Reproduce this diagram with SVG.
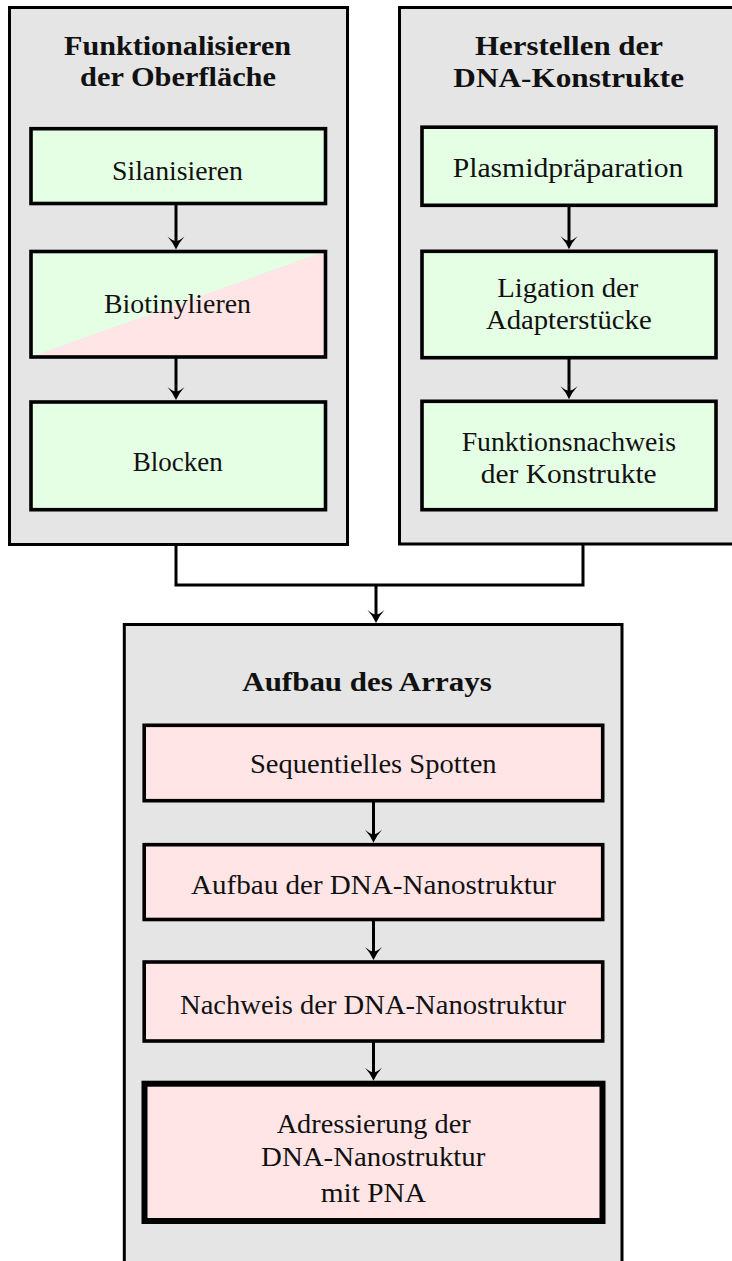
<svg xmlns="http://www.w3.org/2000/svg" width="732" height="1261" viewBox="0 0 732 1261">
<style>
.outer{fill:#e5e5e5;stroke:#000;stroke-width:3}
.g{fill:#e5ffe5;stroke:#000;stroke-width:3.6}
.r{fill:#ffe5e5;stroke:#000;stroke-width:3.6}
.thick{stroke-width:6}
.t{font-family:"Liberation Serif","Times New Roman",serif;font-size:27px;fill:#111;text-anchor:middle}
.b{font-weight:bold}
.c{fill:none;stroke:#000;stroke-width:3}
</style>
<defs>
<marker id="ah" markerUnits="userSpaceOnUse" viewBox="-15 -10 17 20" markerWidth="17" markerHeight="20" refX="-6" refY="0" orient="auto" overflow="visible">
<path d="M0,0 Q-7,-3 -13,-8.5 Q-8.5,-3 -8.5,0 Q-8.5,3 -13,8.5 Q-7,3 0,0 Z" fill="#000"/>
</marker>
</defs>
<rect width="732" height="1261" fill="#fff"/>

<g id="cluster-left">
<rect class="outer" x="9.5" y="7.5" width="338" height="537"/>
<text class="t b" x="177.5" y="55" textLength="227" lengthAdjust="spacingAndGlyphs">Funktionalisieren</text>
<text class="t b" x="178" y="86" textLength="196" lengthAdjust="spacingAndGlyphs">der Oberfläche</text>
</g>
<g id="cluster-right">
<rect class="outer" x="399.5" y="7.5" width="340" height="536.5"/>
<text class="t b" x="569" y="55" textLength="188" lengthAdjust="spacingAndGlyphs">Herstellen der</text>
<text class="t b" x="568.7" y="87" textLength="230.7" lengthAdjust="spacingAndGlyphs">DNA-Konstrukte</text>
</g>
<g id="cluster-bottom">
<rect class="outer" x="124.3" y="624.5" width="497.7" height="640"/>
<text class="t b" x="367" y="691" textLength="249.4" lengthAdjust="spacingAndGlyphs">Aufbau des Arrays</text>
</g>

<g id="silanisieren">
<rect class="g" x="31" y="128.7" width="294.5" height="74.8"/>
<text class="t" x="177.5" y="180" textLength="131" lengthAdjust="spacingAndGlyphs">Silanisieren</text>
</g>
<g id="biotinylieren">
<polygon points="31,251.5 325.5,251.5 31,357" fill="#e5ffe5"/>
<polygon points="325.5,251.5 325.5,357 31,357" fill="#ffe5e5"/>
<rect x="31" y="251.5" width="294.5" height="105.5" fill="none" stroke="#000" stroke-width="3.6"/>
<text class="t" x="177.5" y="313.3" textLength="147" lengthAdjust="spacingAndGlyphs">Biotinylieren</text>
</g>
<g id="blocken">
<rect class="g" x="31" y="402" width="294.5" height="107.7"/>
<text class="t" x="177.7" y="471" textLength="90" lengthAdjust="spacingAndGlyphs">Blocken</text>
</g>

<g id="plasmid">
<rect class="g" x="422" y="127.2" width="294" height="78.1"/>
<text class="t" x="568" y="176.7" textLength="230.7" lengthAdjust="spacingAndGlyphs">Plasmidpräparation</text>
</g>
<g id="ligation">
<rect class="g" x="422" y="251.3" width="294" height="106.4"/>
<text class="t" x="567.8" y="297.3" textLength="141" lengthAdjust="spacingAndGlyphs">Ligation der</text>
<text class="t" x="568.8" y="328.8" textLength="165.7" lengthAdjust="spacingAndGlyphs">Adapterstücke</text>
</g>
<g id="funktionsnachweis">
<rect class="g" x="422" y="401.3" width="294" height="108.4"/>
<text class="t" x="568.8" y="450.5" textLength="214.3" lengthAdjust="spacingAndGlyphs">Funktionsnachweis</text>
<text class="t" x="568.7" y="483" textLength="176" lengthAdjust="spacingAndGlyphs">der Konstrukte</text>
</g>

<g id="spotten">
<rect class="r" x="144.2" y="725.3" width="458.5" height="75.4"/>
<text class="t" x="373.3" y="773.3" textLength="246.7" lengthAdjust="spacingAndGlyphs">Sequentielles Spotten</text>
</g>
<g id="aufbau">
<rect class="r" x="144.2" y="844.7" width="458.5" height="74.8"/>
<text class="t" x="373.5" y="894.3" textLength="365" lengthAdjust="spacingAndGlyphs">Aufbau der DNA-Nanostruktur</text>
</g>
<g id="nachweis">
<rect class="r" x="144.2" y="962" width="458.5" height="79"/>
<text class="t" x="373" y="1014.3" textLength="386" lengthAdjust="spacingAndGlyphs">Nachweis der DNA-Nanostruktur</text>
</g>
<g id="adressierung">
<rect class="r thick" x="144.5" y="1083.7" width="458" height="137.3"/>
<text class="t" x="373.7" y="1132.7" textLength="194" lengthAdjust="spacingAndGlyphs">Adressierung der</text>
<text class="t" x="373.2" y="1166" textLength="224.3" lengthAdjust="spacingAndGlyphs">DNA-Nanostruktur</text>
<text class="t" x="373.3" y="1201.7" textLength="105.3" lengthAdjust="spacingAndGlyphs">mit PNA</text>
</g>

<g id="connectors">
<line class="c" x1="176" y1="203.5" x2="176" y2="243.5" marker-end="url(#ah)"/>
<line class="c" x1="176" y1="357" x2="176" y2="394" marker-end="url(#ah)"/>
<line class="c" x1="569" y1="205.3" x2="569" y2="243.3" marker-end="url(#ah)"/>
<line class="c" x1="569" y1="357.7" x2="569" y2="393.3" marker-end="url(#ah)"/>
<polyline class="c" points="176,544.5 176,585 583,585 583,544"/>
<line class="c" x1="376" y1="585" x2="376" y2="617" marker-end="url(#ah)"/>
<line class="c" x1="373.5" y1="800.7" x2="373.5" y2="836.7" marker-end="url(#ah)"/>
<line class="c" x1="373.5" y1="919.5" x2="373.5" y2="954" marker-end="url(#ah)"/>
<line class="c" x1="373.5" y1="1041" x2="373.5" y2="1074.7" marker-end="url(#ah)"/>
</g>
</svg>
